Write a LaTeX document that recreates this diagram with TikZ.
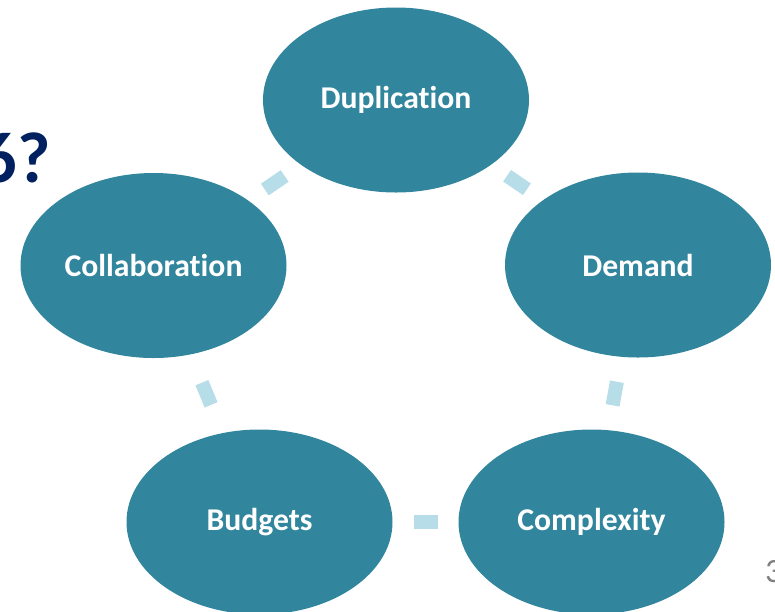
\documentclass[tikz,border=0pt]{standalone}
\usepackage{fontspec}
\setmainfont{Carlito}[Ligatures=NoCommon]
\usetikzlibrary{shapes.geometric,calc}
\definecolor{teal1}{HTML}{31859C}
\definecolor{dashblue}{HTML}{B7DEE8}
\definecolor{navy}{HTML}{002060}
\definecolor{pgnum}{HTML}{808080}
\tikzset{
  bubble/.style={ellipse, fill=teal1, draw=none, minimum width=266pt, minimum height=185pt, inner sep=0pt,
    text=white, font=\fontsize{31.7}{36}\selectfont\bfseries},
  linkdash/.style={draw=dashblue, line width=14pt}
}
\newcommand{\linkab}[2]{%
  \coordinate (m#1#2) at ($(#1)!0.5!(#2)$);
  \draw[linkdash] ($(m#1#2)!12pt!(#1)$) -- ($(m#1#2)!12pt!(#2)$);}
\begin{document}
\begin{tikzpicture}[x=1pt,y=-1pt]
\useasboundingbox (0,0) rectangle (775,611);
\node[bubble] (dup) at (396,100) {Duplication};
\node[bubble] (col) at (153.5,265.5) {Collaboration};
\node[bubble] (dem) at (638,265) {Demand};
\node[bubble] (bud) at (259.5,522) {Budgets};
\node[bubble] (com) at (591.5,522) {Complexity};
\linkab{dup}{col}
\linkab{dup}{dem}
\linkab{col}{bud}
\linkab{dem}{com}
\linkab{bud}{com}
\node[anchor=east, inner sep=0pt, text=navy, font=\fontsize{72}{80}\selectfont\bfseries] (title) at (51,158) {6?};
\node[anchor=west, inner sep=0pt, text=pgnum, font=\fontsize{34}{40}\selectfont] (pg) at (765,572) {3};
\end{tikzpicture}
\end{document}
